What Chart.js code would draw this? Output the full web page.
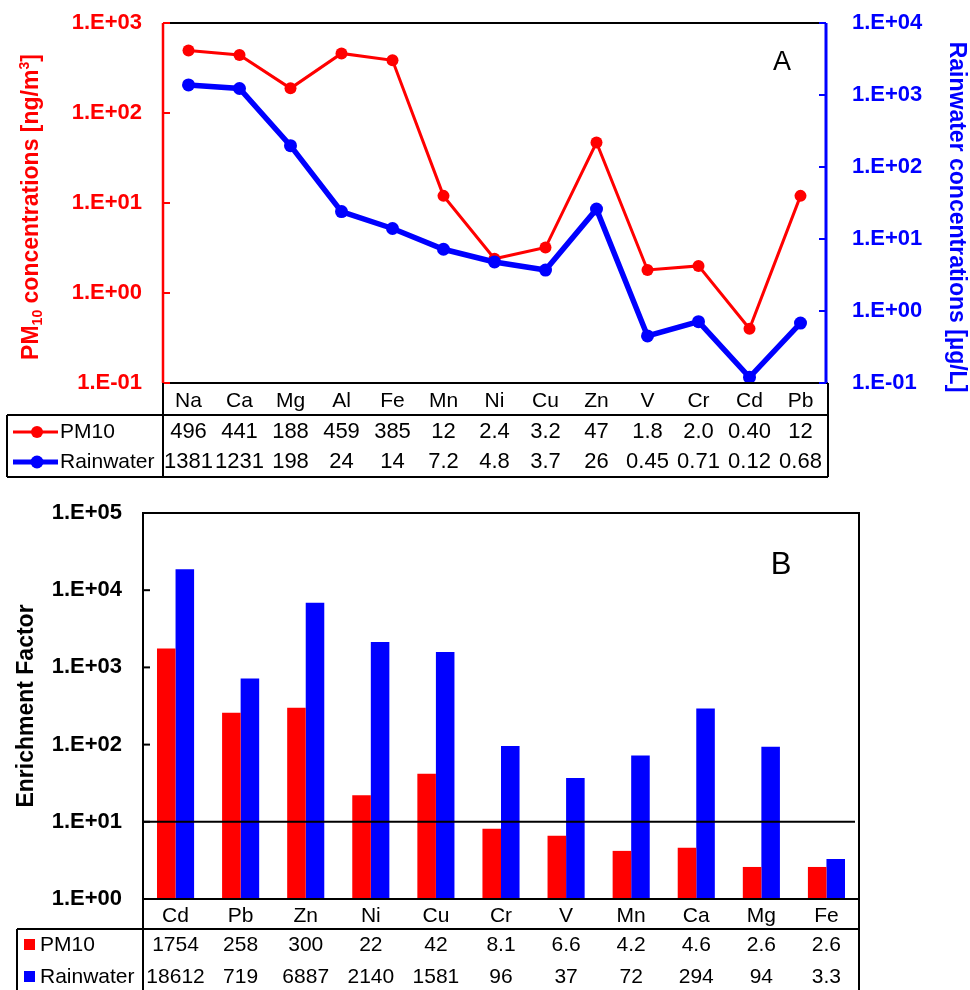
<!DOCTYPE html>
<html>
<head>
<meta charset="utf-8">
<script src="https://cdn.jsdelivr.net/npm/chart.js@4.4.0/dist/chart.umd.min.js"></script>
<style>
  html, body { margin: 0; padding: 0; background: #fff; }
  #wrap { position: relative; width: 970px; height: 990px; overflow: hidden; }
  canvas { position: absolute; left: 0; }
</style>
</head>
<body>
<div id="wrap">
  <canvas id="chartA" width="970" height="490" style="top:0"></canvas>
  <canvas id="chartB" width="970" height="500" style="top:490px"></canvas>
</div>
<script>
// Panel A - concentrations
const elementsA = ["Na", "Ca", "Mg", "Al", "Fe", "Mn", "Ni", "Cu", "Zn", "V", "Cr", "Cd", "Pb"];
const pm10Conc = [496, 441, 188, 459, 385, 12, 2.4, 3.2, 47, 1.8, 2.0, 0.40, 12];
const rainConc = [1381, 1231, 198, 24, 14, 7.2, 4.8, 3.7, 26, 0.45, 0.71, 0.12, 0.68];

// Panel B - enrichment factors
const elementsB = ["Cd", "Pb", "Zn", "Ni", "Cu", "Cr", "V", "Mn", "Ca", "Mg", "Fe"];
const pm10EF = [1754, 258, 300, 22, 42, 8.1, 6.6, 4.2, 4.6, 2.6, 2.6];
const rainEF = [18612, 719, 6887, 2140, 1581, 96, 37, 72, 294, 94, 3.3];
const efThreshold = 10;

const FONT = "Arial, 'Liberation Sans', sans-serif";
const RED = "#ff0000";
const BLUE = "#0000ff";

// table value text, as printed in the figure
function fmt(v) {
  return v >= 100 ? String(Math.round(v)) : v.toPrecision(2);
}

// 1.E+03 style labels
function sciLabel(v) {
  const k = Math.round(Math.log10(v));
  return "1.E" + (k < 0 ? "-" : "+") + String(Math.abs(k)).padStart(2, "0");
}

function decadeTicks(scale) {
  const ticks = [];
  const lo = Math.round(Math.log10(scale.min));
  const hi = Math.round(Math.log10(scale.max));
  for (let k = lo; k <= hi; k++) ticks.push({ value: Math.pow(10, k) });
  scale.ticks = ticks;
}

// fixed axis width, and no extra space claimed above/below the plot
function fixWidth(w) {
  return s => {
    s.width = w;
    s.paddingTop = 0;
    s.paddingBottom = 0;
  };
}

function line(ctx, x1, y1, x2, y2, color, w) {
  ctx.beginPath();
  ctx.strokeStyle = color;
  ctx.lineWidth = w;
  ctx.moveTo(x1, y1);
  ctx.lineTo(x2, y2);
  ctx.stroke();
}

// draws text pieces along a rotated baseline, centred on (cx, cy)
function rotatedTitle(ctx, pieces, cx, cy, angle, color) {
  ctx.save();
  ctx.translate(cx, cy);
  ctx.rotate(angle);
  ctx.fillStyle = color;
  ctx.textBaseline = "middle";
  ctx.textAlign = "left";
  let total = 0;
  pieces.forEach(p => {
    ctx.font = "bold " + p.size + "px " + FONT;
    p.w = ctx.measureText(p.text).width;
    total += p.w;
  });
  let x = -total / 2;
  pieces.forEach(p => {
    ctx.font = "bold " + p.size + "px " + FONT;
    ctx.fillText(p.text, x, p.dy || 0);
    x += p.w;
  });
  ctx.restore();
}

function innerTicks(ctx, scale, x, dir, color) {
  scale.ticks.forEach(t => {
    const py = scale.getPixelForValue(t.value);
    line(ctx, x, py, x + dir * 7, py, color, 2);
  });
}

// Panel A decorations: frame, ticks, titles, data table
const decorA = {
  id: "decorA",
  afterDraw(chart) {
    const { ctx, chartArea: a, scales: { x, y, y2 } } = chart;
    ctx.save();
    line(ctx, a.left, a.top, a.right, a.top, "#000", 2);
    line(ctx, a.left, a.bottom, a.right + 2, a.bottom, "#000", 2);
    innerTicks(ctx, y, a.left, 1, RED);
    innerTicks(ctx, y2, a.right, -1, BLUE);
    line(ctx, a.left, a.top, a.left, a.bottom, RED, 2.5);
    line(ctx, a.right, a.top, a.right, a.bottom, BLUE, 3);

    // table
    const tTop = a.bottom + 32, tBot = a.bottom + 94, tRight = a.right + 2;
    line(ctx, a.left, a.bottom, a.left, tBot, "#000", 2);
    line(ctx, tRight, a.bottom, tRight, tBot, "#000", 2);
    line(ctx, 7, tTop, tRight, tTop, "#000", 2);
    line(ctx, 7, tBot, tRight, tBot, "#000", 2);
    line(ctx, 7, tTop, 7, tBot, "#000", 2);

    const r1 = a.bottom + 49, r2 = a.bottom + 79;
    line(ctx, 13, r1, 58, r1, RED, 3);
    line(ctx, 13, r2, 58, r2, BLUE, 5);
    ctx.fillStyle = RED;
    ctx.beginPath(); ctx.arc(37, r1, 6, 0, Math.PI * 2); ctx.fill();
    ctx.fillStyle = BLUE;
    ctx.beginPath(); ctx.arc(37, r2, 6.5, 0, Math.PI * 2); ctx.fill();

    ctx.fillStyle = "#000";
    ctx.textBaseline = "middle";
    ctx.font = "21px " + FONT;
    ctx.textAlign = "left";
    ctx.fillText(chart.data.datasets[0].label, 60, r1);
    ctx.fillText(chart.data.datasets[1].label, 60, r2);
    ctx.font = "22px " + FONT;
    ctx.textAlign = "center";
    elementsA.forEach((el, i) => {
      const cx = x.getPixelForValue(i);
      ctx.fillText(fmt(pm10Conc[i]), cx, r1);
      ctx.fillText(fmt(rainConc[i]), cx, r2);
    });

    // titles
    rotatedTitle(ctx, [
      { text: "PM", size: 23 },
      { text: "10", size: 14, dy: 6 },
      { text: " concentrations [ng/m", size: 23 },
      { text: "3", size: 14, dy: -7 },
      { text: "]", size: 23 }
    ], 32, 207, -Math.PI / 2, RED);
    rotatedTitle(ctx, [{ text: "Rainwater concentrations [\u00b5g/L]", size: 23 }],
      956, 217, Math.PI / 2, BLUE);

    ctx.fillStyle = "#000";
    ctx.font = "27px " + FONT;
    ctx.textAlign = "center";
    ctx.fillText("A", 782, 63);
    ctx.restore();
  }
};

new Chart(document.getElementById("chartA"), {
  type: "line",
  data: {
    labels: elementsA,
    datasets: [
      {
        label: "PM10", data: pm10Conc, yAxisID: "y", order: 1,
        borderColor: RED, backgroundColor: RED, borderWidth: 3,
        pointRadius: 6, pointBorderWidth: 0, tension: 0, clip: false
      },
      {
        label: "Rainwater", data: rainConc, yAxisID: "y2", order: 0,
        borderColor: BLUE, backgroundColor: BLUE, borderWidth: 5.5,
        pointRadius: 6.5, pointBorderWidth: 0, tension: 0, clip: false
      }
    ]
  },
  options: {
    responsive: false,
    animation: false,
    layout: { padding: { top: 23, bottom: 75, left: 0, right: 0 } },
    plugins: { legend: { display: false }, tooltip: { enabled: false } },
    scales: {
      x: {
        type: "category", offset: true,
        grid: { display: false, drawTicks: false }, border: { display: false },
        ticks: { color: "#000", font: { family: FONT, size: 21 }, padding: 6, maxRotation: 0, autoSkip: false },
        afterFit: s => { s.height = 32; }
      },
      y: {
        type: "logarithmic", position: "left", min: 0.1, max: 1000,
        afterBuildTicks: decadeTicks,
        afterFit: fixWidth(163),
        grid: { display: false, drawTicks: false }, border: { display: false },
        ticks: { color: RED, font: { family: FONT, size: 22, weight: "bold" }, padding: 21, callback: sciLabel }
      },
      y2: {
        type: "logarithmic", position: "right", min: 0.1, max: 10000,
        afterBuildTicks: decadeTicks,
        afterFit: fixWidth(144),
        grid: { display: false, drawTicks: false }, border: { display: false },
        ticks: { color: BLUE, font: { family: FONT, size: 22, weight: "bold" }, padding: 26, callback: sciLabel }
      }
    }
  },
  plugins: [decorA]
});

// Panel B decorations
const decorB = {
  id: "decorB",
  afterDraw(chart) {
    const { ctx, chartArea: a, scales: { x, y } } = chart;
    const H = chart.height;
    ctx.save();
    const ty = y.getPixelForValue(efThreshold);
    line(ctx, a.left, ty, a.right - 4, ty, "#000", 2);
    innerTicks(ctx, y, a.left, 1, "#000");
    ctx.strokeStyle = "#000";
    ctx.lineWidth = 2;
    ctx.strokeRect(a.left, a.top, a.right - a.left, a.bottom - a.top);

    const tTop = a.bottom + 30;
    line(ctx, a.left, a.bottom, a.left, H, "#000", 2);
    line(ctx, a.right, a.bottom, a.right, H, "#000", 2);
    line(ctx, 17, tTop, a.right, tTop, "#000", 2);
    line(ctx, 17, tTop, 17, H, "#000", 2);

    const r1 = a.bottom + 46, r2 = a.bottom + 78;
    ctx.fillStyle = RED;
    ctx.fillRect(24, r1 - 6, 11, 11);
    ctx.fillStyle = BLUE;
    ctx.fillRect(24, r2 - 6, 11, 11);

    ctx.fillStyle = "#000";
    ctx.textBaseline = "middle";
    ctx.font = "21px " + FONT;
    ctx.textAlign = "left";
    ctx.fillText(chart.data.datasets[0].label, 40, r1);
    ctx.fillText(chart.data.datasets[1].label, 40, r2);
    ctx.textAlign = "center";
    elementsB.forEach((el, i) => {
      const cx = x.getPixelForValue(i);
      ctx.fillText(fmt(pm10EF[i]), cx, r1);
      ctx.fillText(fmt(rainEF[i]), cx, r2);
    });

    rotatedTitle(ctx, [{ text: "Enrichment Factor", size: 23 }],
      27, (a.top + a.bottom) / 2, -Math.PI / 2, "#000");

    ctx.fillStyle = "#000";
    ctx.font = "31px " + FONT;
    ctx.textAlign = "center";
    ctx.fillText("B", 781, 75);
    ctx.restore();
  }
};

new Chart(document.getElementById("chartB"), {
  type: "bar",
  data: {
    labels: elementsB,
    datasets: [
      { label: "PM10", data: pm10EF, backgroundColor: RED, borderWidth: 0 },
      { label: "Rainwater", data: rainEF, backgroundColor: BLUE, borderWidth: 0 }
    ]
  },
  options: {
    responsive: false,
    animation: false,
    layout: { padding: { top: 23, bottom: 61, left: 0, right: 111 } },
    datasets: { bar: { categoryPercentage: 0.57, barPercentage: 1.0 } },
    plugins: { legend: { display: false }, tooltip: { enabled: false } },
    scales: {
      x: {
        type: "category",
        grid: { display: false, drawTicks: false }, border: { display: false },
        ticks: { color: "#000", font: { family: FONT, size: 21 }, padding: 5, maxRotation: 0, autoSkip: false },
        afterFit: s => { s.height = 30; }
      },
      y: {
        type: "logarithmic", position: "left", min: 1, max: 100000,
        afterBuildTicks: decadeTicks,
        afterFit: fixWidth(143),
        grid: { display: false, drawTicks: false }, border: { display: false },
        ticks: { color: "#000", font: { family: FONT, size: 22, weight: "bold" }, padding: 21, callback: sciLabel }
      }
    }
  },
  plugins: [decorB]
});
</script>
</body>
</html>
